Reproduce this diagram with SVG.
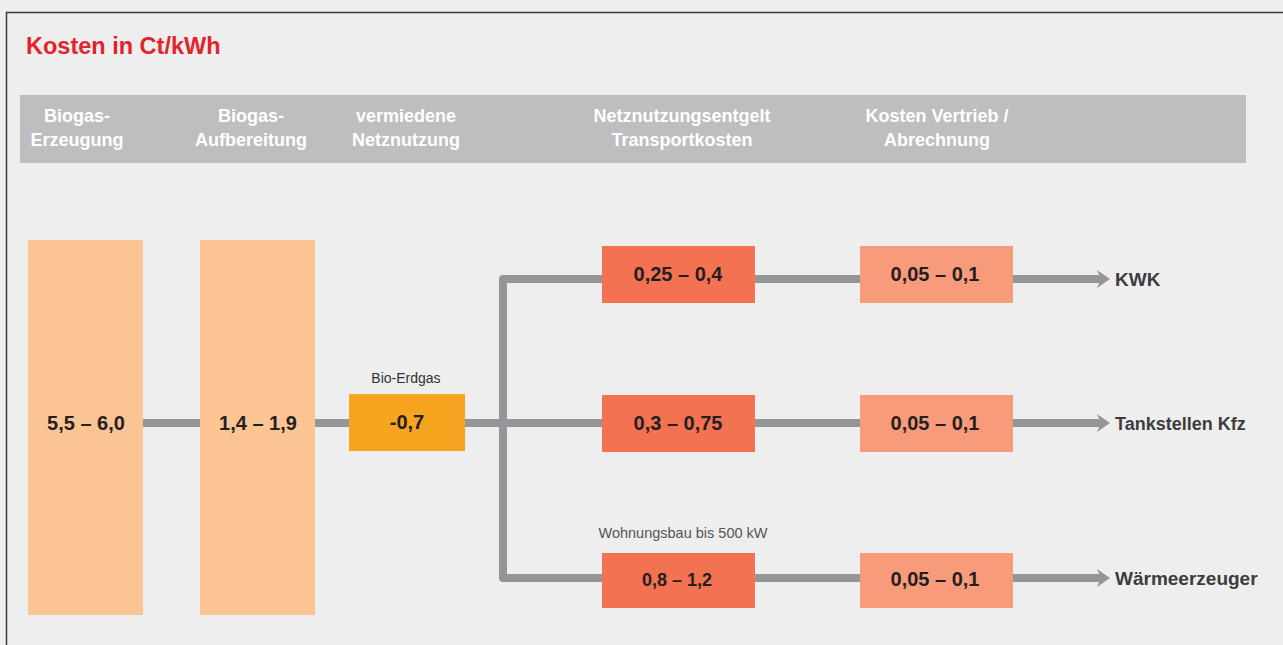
<svg xmlns="http://www.w3.org/2000/svg" width="1283" height="645" viewBox="0 0 1283 645">
  <style>
    .hdr { font-family: "Liberation Sans", Arial, sans-serif; font-weight: bold; font-size: 18px; fill: #ffffff; text-anchor: middle; }
    .val { font-family: "Liberation Sans", Arial, sans-serif; font-weight: bold; font-size: 20px; fill: #231f20; text-anchor: middle; }
    .lbl { font-family: "Liberation Sans", Arial, sans-serif; font-weight: bold; font-size: 18px; fill: #3c3c3e; }
    .note { font-family: "Liberation Sans", Arial, sans-serif; font-size: 14px; fill: #444444; text-anchor: middle; }
    .tall { fill: #fdc493; }
    .net { fill: #f37252; }
    .vert { fill: #f89b7b; }
    .conn { fill: none; stroke: #939598; stroke-width: 8; stroke-linejoin: round; }
    .head { fill: #939598; }
  </style>
  <rect x="0" y="0" width="1283" height="645" fill="#eeeeee"/>
  <path d="M6.5,645 V12.5 H1283" fill="none" stroke="#3a3a3a" stroke-width="1.5"/>
  <text x="26" y="54" font-family="Liberation Sans, Arial, sans-serif" font-weight="bold" font-size="23.5" fill="#e2232a">Kosten in Ct/kWh</text>

  <g id="header">
    <rect x="20" y="95" width="1226" height="68" fill="#bdbec0"/>
    <text class="hdr" x="77" y="122">Biogas-</text>
    <text class="hdr" x="77" y="146">Erzeugung</text>
    <text class="hdr" x="251" y="122">Biogas-</text>
    <text class="hdr" x="251" y="146">Aufbereitung</text>
    <text class="hdr" x="406" y="122">vermiedene</text>
    <text class="hdr" x="406" y="146">Netznutzung</text>
    <text class="hdr" x="682" y="122">Netznutzungsentgelt</text>
    <text class="hdr" x="682" y="146">Transportkosten</text>
    <text class="hdr" x="937" y="122">Kosten Vertrieb /</text>
    <text class="hdr" x="937" y="146">Abrechnung</text>
  </g>

  <g id="connectors">
    <path class="conn" d="M143,423 H200"/>
    <path class="conn" d="M315,423 H349"/>
    <path class="conn" d="M465,423 H602"/>
    <path class="conn" d="M602,279 H503 V578 H602"/>
    <path class="conn" d="M755,279 H860"/>
    <path class="conn" d="M755,423 H860"/>
    <path class="conn" d="M755,578 H860"/>
    <path class="conn" d="M1013,279 H1101"/>
    <path class="conn" d="M1013,423 H1101"/>
    <path class="conn" d="M1013,578 H1101"/>
    <polygon class="head" points="1097,270 1110,279 1097,288 1101,279"/>
    <polygon class="head" points="1097,414 1110,423 1097,432 1101,423"/>
    <polygon class="head" points="1097,569 1110,578 1097,587 1101,578"/>
  </g>

  <g id="erzeugung">
    <rect class="tall" x="28" y="240" width="115" height="375"/>
    <text class="val" x="86" y="430">5,5 – 6,0</text>
  </g>
  <g id="aufbereitung">
    <rect class="tall" x="200" y="240" width="115" height="375"/>
    <text class="val" x="258" y="430">1,4 – 1,9</text>
  </g>
  <g id="bio-erdgas">
    <text class="note" x="406" y="383" style="fill:#333333">Bio-Erdgas</text>
    <rect x="349" y="394" width="116" height="57" fill="#f7a520"/>
    <text class="val" x="407" y="429">-0,7</text>
  </g>

  <g id="netz-kwk">
    <rect class="net" x="602" y="246" width="153" height="57"/>
    <text class="val" x="678" y="281">0,25 – 0,4</text>
  </g>
  <g id="netz-kfz">
    <rect class="net" x="602" y="395" width="153" height="57"/>
    <text class="val" x="678" y="430">0,3 – 0,75</text>
  </g>
  <g id="netz-waerme">
    <text class="note" x="683" y="538" style="fill:#555555;font-size:14.5px">Wohnungsbau bis 500 kW</text>
    <rect class="net" x="602" y="553" width="153" height="55"/>
    <text class="val" x="677" y="586" style="font-size:18px">0,8 – 1,2</text>
  </g>

  <g id="vertrieb-kwk">
    <rect class="vert" x="860" y="246" width="153" height="57"/>
    <text class="val" x="935" y="281">0,05 – 0,1</text>
  </g>
  <g id="vertrieb-kfz">
    <rect class="vert" x="860" y="395" width="153" height="57"/>
    <text class="val" x="935" y="430">0,05 – 0,1</text>
  </g>
  <g id="vertrieb-waerme">
    <rect class="vert" x="860" y="553" width="153" height="55"/>
    <text class="val" x="935" y="586">0,05 – 0,1</text>
  </g>

  <g id="kwk"><text class="lbl" x="1115" y="286" style="font-size:19px">KWK</text></g>
  <g id="tankstellen"><text class="lbl" x="1115" y="430">Tankstellen Kfz</text></g>
  <g id="waermeerzeuger"><text class="lbl" x="1115" y="585" style="font-size:19px">Wärmeerzeuger</text></g>
</svg>
